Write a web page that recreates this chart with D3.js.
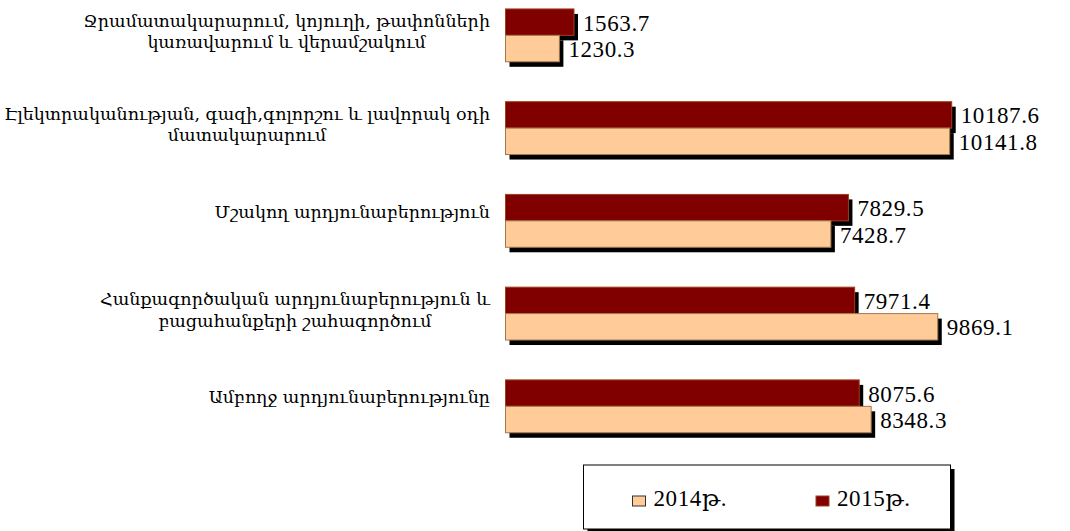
<!DOCTYPE html>
<html><head><meta charset="utf-8">
<script src="https://cdn.jsdelivr.net/npm/d3@7"></script>
<style>body{margin:0;background:#fff}svg{display:block}</style>
</head><body>
<svg id="c" width="1070" height="531"></svg>
<script>
const categories = [
  "Ջրամատակարարում, կոյուղի, թափոնների|կառավարում և վերամշակում",
  "Էլեկտրականության, գազի,գոլորշու և լավորակ օդի|մատակարարում",
  "Մշակող արդյունաբերություն",
  "Հանքագործական արդյունաբերություն և|բացահանքերի շահագործում",
  "Ամբողջ արդյունաբերությունը"
];
const series = ["2015թ.", "2014թ."];
const values2015 = [1563.7, 10187.6, 7829.5, 7971.4, 8075.6];
const values2014 = [1230.3, 10141.8, 7428.7, 9869.1, 8348.3];
const legendOrder = ["2014թ.", "2015թ."];

const colors = {"2015թ.": "#800000", "2014թ.": "#FFCC99"};
const strokes = {"2015թ.": "#A0401A", "2014թ.": "#A07850"};
const valueFont = "'Liberation Serif','DejaVu Serif',serif";
const labelFont = "'DejaVu Serif',serif";

const svg = d3.select("#c");
const x = d3.scaleLinear().domain([0, 12000]).range([505.5, 1031.1]);
const y = d3.scaleBand().domain(categories).range([-11, 452.7]).paddingInner(0.43).paddingOuter(0.215);
const ys = d3.scaleBand().domain(series).range([0, y.bandwidth()]);

const rows = categories.map((c, i) => ({cat: c, vals: [
  {s: "2015թ.", v: values2015[i]}, {s: "2014թ.", v: values2014[i]}]}));

const g = svg.selectAll("g.cat").data(rows).join("g").attr("class","cat")
  .attr("transform", d => `translate(0,${y(d.cat)})`);

// shadows
g.selectAll("rect.sh").data(d => d.vals).join("rect").attr("class","sh")
  .attr("x", x(0) + 4).attr("y", d => ys(d.s) + 5)
  .attr("width", d => x(d.v) - x(0)).attr("height", ys.bandwidth())
  .attr("fill", "#000");
// bars
g.selectAll("rect.bar").data(d => d.vals).join("rect").attr("class","bar")
  .attr("x", x(0)).attr("y", d => ys(d.s))
  .attr("width", d => x(d.v) - x(0)).attr("height", ys.bandwidth())
  .attr("fill", d => colors[d.s]).attr("stroke", d => strokes[d.s]).attr("stroke-width", 1);
// values
g.selectAll("text.val").data(d => d.vals).join("text").attr("class","val")
  .attr("x", d => x(d.v) + 9).attr("y", d => ys(d.s) + ys.bandwidth()/2 + 8.5)
  .attr("font-family", valueFont).attr("font-size", 23).attr("letter-spacing", 0.6)
  .attr("fill", "#000").text(d => d.v.toFixed(1));

// category labels
const labelRight = 490;
g.each(function(d) {
  const lines = d.cat.split("|");
  const t = d3.select(this).append("text")
    .attr("font-family", labelFont).attr("font-size", 17.5).attr("fill", "#000")
    .attr("text-anchor", "middle");
  const spans = lines.map((l, i) => t.append("tspan").text(l));
  const widths = spans.map(s => s.node().getComputedTextLength());
  const bw = Math.max(...widths);
  const cx = labelRight - bw/2;
  const first = y.bandwidth()/2 - 3 - (lines.length - 1) * 5.5;
  spans.forEach((s, i) => s.attr("x", cx).attr("y", first + i * 21.5));
});

// legend
const lg = svg.append("g").attr("transform", "translate(583.5,465)");
lg.append("rect").attr("x", 4).attr("y", 4).attr("width", 367).attr("height", 64).attr("fill", "#000");
lg.append("rect").attr("x", 0).attr("y", 0).attr("width", 367).attr("height", 64)
  .attr("fill", "#fff").attr("stroke", "#000").attr("stroke-width", 1);
const li = lg.selectAll("g.li").data(legendOrder).join("g").attr("class","li")
  .attr("transform", (d, i) => `translate(${49 + i * 183.5},31)`);
li.append("rect").attr("width", 13).attr("height", 10)
  .attr("fill", d => colors[d]).attr("stroke", d => d === "2014թ." ? "#333" : "#A0401A").attr("stroke-width", 1);
li.append("text").attr("x", 21).attr("y", 10)
  .attr("font-family", valueFont).attr("font-size", 23).attr("letter-spacing", 0.6)
  .text(d => d);
</script>
</body></html>
